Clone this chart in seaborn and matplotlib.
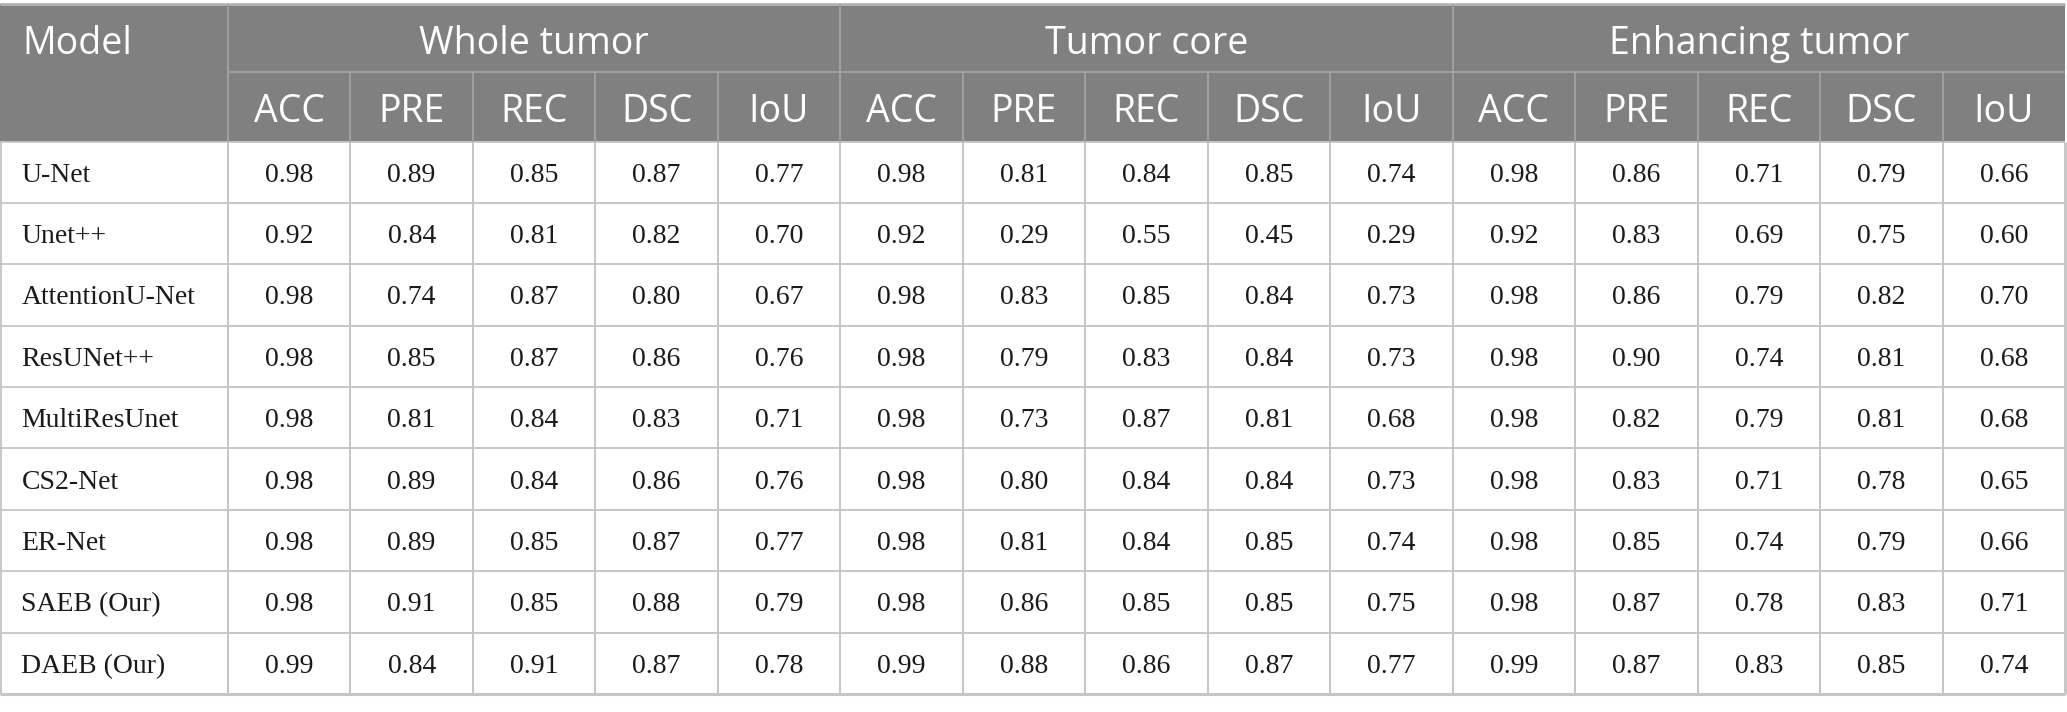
import numpy as np
import pandas as pd
import matplotlib
matplotlib.use("Agg")
import matplotlib.pyplot as plt
import seaborn as sns
from matplotlib.colors import ListedColormap
from matplotlib.patches import Rectangle

# Table content
models = ["U-Net", "Unet++", "AttentionU-Net", "ResUNet++", "MultiResUnet",
          "CS2-Net", "ER-Net", "SAEB (Our)", "DAEB (Our)"]
groups = ["Whole tumor", "Tumor core", "Enhancing tumor"]
metrics = ["ACC", "PRE", "REC", "DSC", "IoU"]

# rows follow models, columns follow metrics
whole_tumor = [
    [0.98, 0.89, 0.85, 0.87, 0.77],
    [0.92, 0.84, 0.81, 0.82, 0.70],
    [0.98, 0.74, 0.87, 0.80, 0.67],
    [0.98, 0.85, 0.87, 0.86, 0.76],
    [0.98, 0.81, 0.84, 0.83, 0.71],
    [0.98, 0.89, 0.84, 0.86, 0.76],
    [0.98, 0.89, 0.85, 0.87, 0.77],
    [0.98, 0.91, 0.85, 0.88, 0.79],
    [0.99, 0.84, 0.91, 0.87, 0.78],
]
tumor_core = [
    [0.98, 0.81, 0.84, 0.85, 0.74],
    [0.92, 0.29, 0.55, 0.45, 0.29],
    [0.98, 0.83, 0.85, 0.84, 0.73],
    [0.98, 0.79, 0.83, 0.84, 0.73],
    [0.98, 0.73, 0.87, 0.81, 0.68],
    [0.98, 0.80, 0.84, 0.84, 0.73],
    [0.98, 0.81, 0.84, 0.85, 0.74],
    [0.98, 0.86, 0.85, 0.85, 0.75],
    [0.99, 0.88, 0.86, 0.87, 0.77],
]
enhancing_tumor = [
    [0.98, 0.86, 0.71, 0.79, 0.66],
    [0.92, 0.83, 0.69, 0.75, 0.60],
    [0.98, 0.86, 0.79, 0.82, 0.70],
    [0.98, 0.90, 0.74, 0.81, 0.68],
    [0.98, 0.82, 0.79, 0.81, 0.68],
    [0.98, 0.83, 0.71, 0.78, 0.65],
    [0.98, 0.85, 0.74, 0.79, 0.66],
    [0.98, 0.87, 0.78, 0.83, 0.71],
    [0.99, 0.87, 0.83, 0.85, 0.74],
]

cols = pd.MultiIndex.from_product([groups, metrics])
table = pd.DataFrame(np.hstack([whole_tumor, tumor_core, enhancing_tumor]),
                     index=models, columns=cols)

n_rows, n_cols = table.shape
model_w = 1.861          # width of the model column, in data-cell units
row1_h, row2_h = 1.108, 1.132
header_h = row1_h + row2_h

header_bg = "#808080"
header_line = "#a3a3a3"
grid_col = "#c6c6c6"
serif = "Liberation Serif"
sans = "Open Sans"
head_fs = 27
body_fs = 20

fig = plt.figure(figsize=(20.67, 7.12), dpi=100)
ax = fig.add_axes([0, 18 / 712, 2065 / 2067, 690 / 712])

sns.heatmap(table, ax=ax, cmap=ListedColormap(["white"]), cbar=False,
            annot=True, fmt=".2f",
            annot_kws=dict(fontsize=body_fs, family=serif, color="#1a1a1a",
                           va="center_baseline"),
            linewidths=1.3, linecolor=grid_col,
            xticklabels=False, yticklabels=False)

ax.set_xlim(-model_w, n_cols)
ax.set_ylim(n_rows, -header_h)
ax.axis("off")

# header band
ax.add_patch(Rectangle((-model_w, -header_h), model_w + n_cols, header_h,
                       facecolor=header_bg, edgecolor="none", zorder=0.5,
                       clip_on=False))

# grid lines for the model column and outer border
ax.hlines(range(n_rows + 1), -model_w, 0, color=grid_col, lw=1.3, zorder=3)
ax.vlines([-model_w, n_cols], 0, n_rows, color=grid_col, lw=2, zorder=3,
          clip_on=False)
ax.hlines(n_rows, -model_w, n_cols, color=grid_col, lw=2.2, zorder=3,
          clip_on=False)
ax.hlines(-header_h, -model_w, n_cols, color="#b4b4b4", lw=2, zorder=3,
          clip_on=False)

# header lines
ax.vlines([0, 5, 10], -header_h, 0, color=header_line, lw=1.3, zorder=3)
ax.vlines([j for j in range(1, n_cols) if j % 5], -row2_h, 0,
          color=header_line, lw=1.3, zorder=3)
ax.hlines(-row2_h, 0, n_cols, color=header_line, lw=1.3, zorder=3)

# header text
y1 = -header_h + row1_h / 2 + 0.03
y2 = -row2_h / 2 + 0.01
ax.text(-model_w + 0.18, y1, "Model", color="white", fontsize=head_fs,
        family=sans, ha="left", va="center_baseline", zorder=4)
for g, name in enumerate(groups):
    ax.text(g * 5 + 2.5, y1, name, color="white", fontsize=head_fs,
            family=sans, ha="center", va="center_baseline", zorder=4)
for j, m in enumerate(metrics * len(groups)):
    ax.text(j + 0.5, y2, m, color="white", fontsize=head_fs,
            family=sans, ha="center", va="center_baseline", zorder=4)

# model names
for i, name in enumerate(models):
    ax.text(-model_w + 0.175, i + 0.5, name, fontsize=body_fs, family=serif,
            color="#1a1a1a", ha="left", va="center_baseline", zorder=4)

fig.savefig("out.png", dpi=100, facecolor="white")
